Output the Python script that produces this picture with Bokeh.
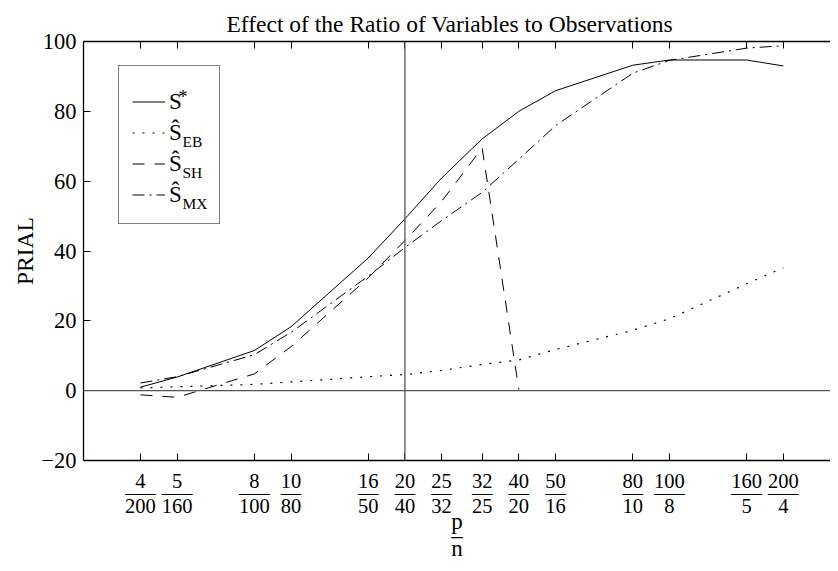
from bokeh.plotting import figure
from bokeh.models import (FixedTicker, LogAxis, Span, Label, Legend, LegendItem, Range1d)
from bokeh.embed import file_html
from bokeh.resources import INLINE

# ---- data -------------------------------------------------------------
p_vals = [4, 5, 8, 10, 16, 20, 25, 32, 40, 50, 80, 100, 160, 200]
n_vals = [200, 160, 100, 80, 50, 40, 32, 25, 20, 16, 10, 8, 5, 4]

s_star = [1.0, 3.9, 11.5, 18.3, 38.0, 49.2, 60.9, 72.1, 80.0, 85.9, 93.2, 94.7, 94.7, 93.0]
s_eb   = [0.8, 1.1, 1.8, 2.5, 4.0, 4.6, 5.8, 7.5, 8.8, 11.8, 17.3, 20.6, 30.6, 35.2]
s_sh   = [-1.2, -1.9, 4.8, 12.6, 32.3, 43.0, 54.2, 69.5, 0.3]
s_mx   = [2.2, 4.0, 10.3, 16.7, 32.8, 41.0, 48.7, 56.8, 66.3, 75.9, 90.9, 94.6, 98.1, 98.8]

y_ticks = [-20, 0, 20, 40, 60, 80, 100]
zero_level = 0
ref_p, ref_n = 20, 40

title_text = "Effect of the Ratio of Variables to Observations"
y_label = "PRIAL"

ratios = [pv / nv for pv, nv in zip(p_vals, n_vals)]

FONT = "Liberation Serif"
DASH = "\u2013"

p = figure(width=830, height=563, x_axis_type="log",
           x_range=Range1d(0.01, 88.8), y_range=Range1d(-20, 100),
           output_backend="svg", toolbar_location=None,
           min_border_left=83, min_border_right=0,
           min_border_top=41, min_border_bottom=103)
p.grid.visible = False
p.outline_line_color = None
p.background_fill_color = "white"
p.border_fill_color = "white"

# title
p.title.text = title_text
p.title.align = "left"
p.title.offset = 143
p.title.text_font = FONT
p.title.text_font_size = "23.5px"
p.title.text_font_style = "normal"
p.title.text_color = "black"
p.title.standoff = 10

# x axis with fraction tick labels
xa = p.xaxis[0]
xa.ticker = FixedTicker(ticks=ratios, minor_ticks=[])
xa.major_label_overrides = {
    r: f"{pv}\n{DASH * max(len(str(pv)), len(str(nv)))}\n{nv}"
    for r, pv, nv in zip(ratios, p_vals, n_vals)}
xa.major_label_text_font = FONT
xa.major_label_text_font_size = "20.5px"
xa.major_label_text_line_height = 0.586
xa.major_label_text_color = "black"
xa.major_label_standoff = 9
xa.major_tick_in = 7
xa.major_tick_out = 0
xa.minor_tick_line_color = None
xa.axis_line_width = 1.3
xa.axis_label = f"p\n{DASH}\nn"
xa.axis_label_text_font = FONT
xa.axis_label_text_font_size = "23px"
xa.axis_label_text_font_style = "normal"
xa.axis_label_text_color = "black"
xa.axis_label_text_line_height = 0.53
xa.axis_label_standoff = -11

top = LogAxis(ticker=FixedTicker(ticks=ratios, minor_ticks=[]),
              major_label_text_color=None, major_label_text_font_size="0px",
              major_tick_in=7, major_tick_out=0, minor_tick_line_color=None,
              axis_line_width=1.3, major_label_standoff=0)
p.add_layout(top, "above")

ya = p.yaxis[0]
ya.ticker = FixedTicker(ticks=y_ticks, minor_ticks=[])
ya.major_label_overrides = {v: (f"\u2212{abs(v)}" if v < 0 else str(v)) for v in y_ticks}
ya.major_label_text_font = FONT
ya.major_label_text_font_size = "22.5px"
ya.major_label_text_color = "black"
ya.major_label_standoff = 7
ya.major_tick_in = 7
ya.major_tick_out = 0
ya.minor_tick_line_color = None
ya.axis_line_width = 1.3
ya.axis_label = y_label
ya.axis_label_text_font = FONT
ya.axis_label_text_font_size = "23.5px"
ya.axis_label_text_font_style = "normal"
ya.axis_label_text_color = "black"
ya.axis_label_standoff = 0

# reference lines
p.add_layout(Span(location=zero_level, dimension="width", line_color="#555555", line_width=1.3))
p.add_layout(Span(location=ref_p / ref_n, dimension="height", line_color="#555555", line_width=1.3))

# series
r1 = p.line(ratios, s_star, line_color="black", line_width=1)
r2 = p.line(ratios, s_eb, line_color="black", line_width=1.2, line_dash="2 8")
r3 = p.line(ratios[:len(s_sh)], s_sh, line_color="black", line_width=1, line_dash="12 10")
r4 = p.line(ratios, s_mx, line_color="black", line_width=1, line_dash="12 5 2 5")

legend = Legend(items=[LegendItem(label="S", renderers=[r1]),
                       LegendItem(label="\u015c", renderers=[r2]),
                       LegendItem(label="\u015c", renderers=[r3]),
                       LegendItem(label="\u015c", renderers=[r4])],
                location=(35, 236), padding=13, spacing=0, margin=0,
                label_height=31, glyph_height=31, glyph_width=33,
                label_standoff=4, label_width=37,
                border_line_color="black", border_line_width=1.2,
                background_fill_alpha=0,
                label_text_font=FONT, label_text_font_size="23px",
                label_text_color="black",
                title=" ", title_text_font_size="7px", title_standoff=0)
p.add_layout(legend)

sub_font = "15.5px"
p.add_layout(Label(x=95, y=364, x_units="screen", y_units="screen", text="*",
                   text_font=FONT, text_font_size="18px", text_baseline="alphabetic",
                   text_color="black", level="overlay"))
for txt, fy in [("EB", 319), ("SH", 288), ("MX", 257)]:
    p.add_layout(Label(x=99, y=fy, x_units="screen", y_units="screen", text=txt,
                       text_font=FONT, text_font_size=sub_font, text_baseline="alphabetic",
                       text_color="black", level="overlay"))

open("out.html", "w").write(file_html(p, INLINE))
